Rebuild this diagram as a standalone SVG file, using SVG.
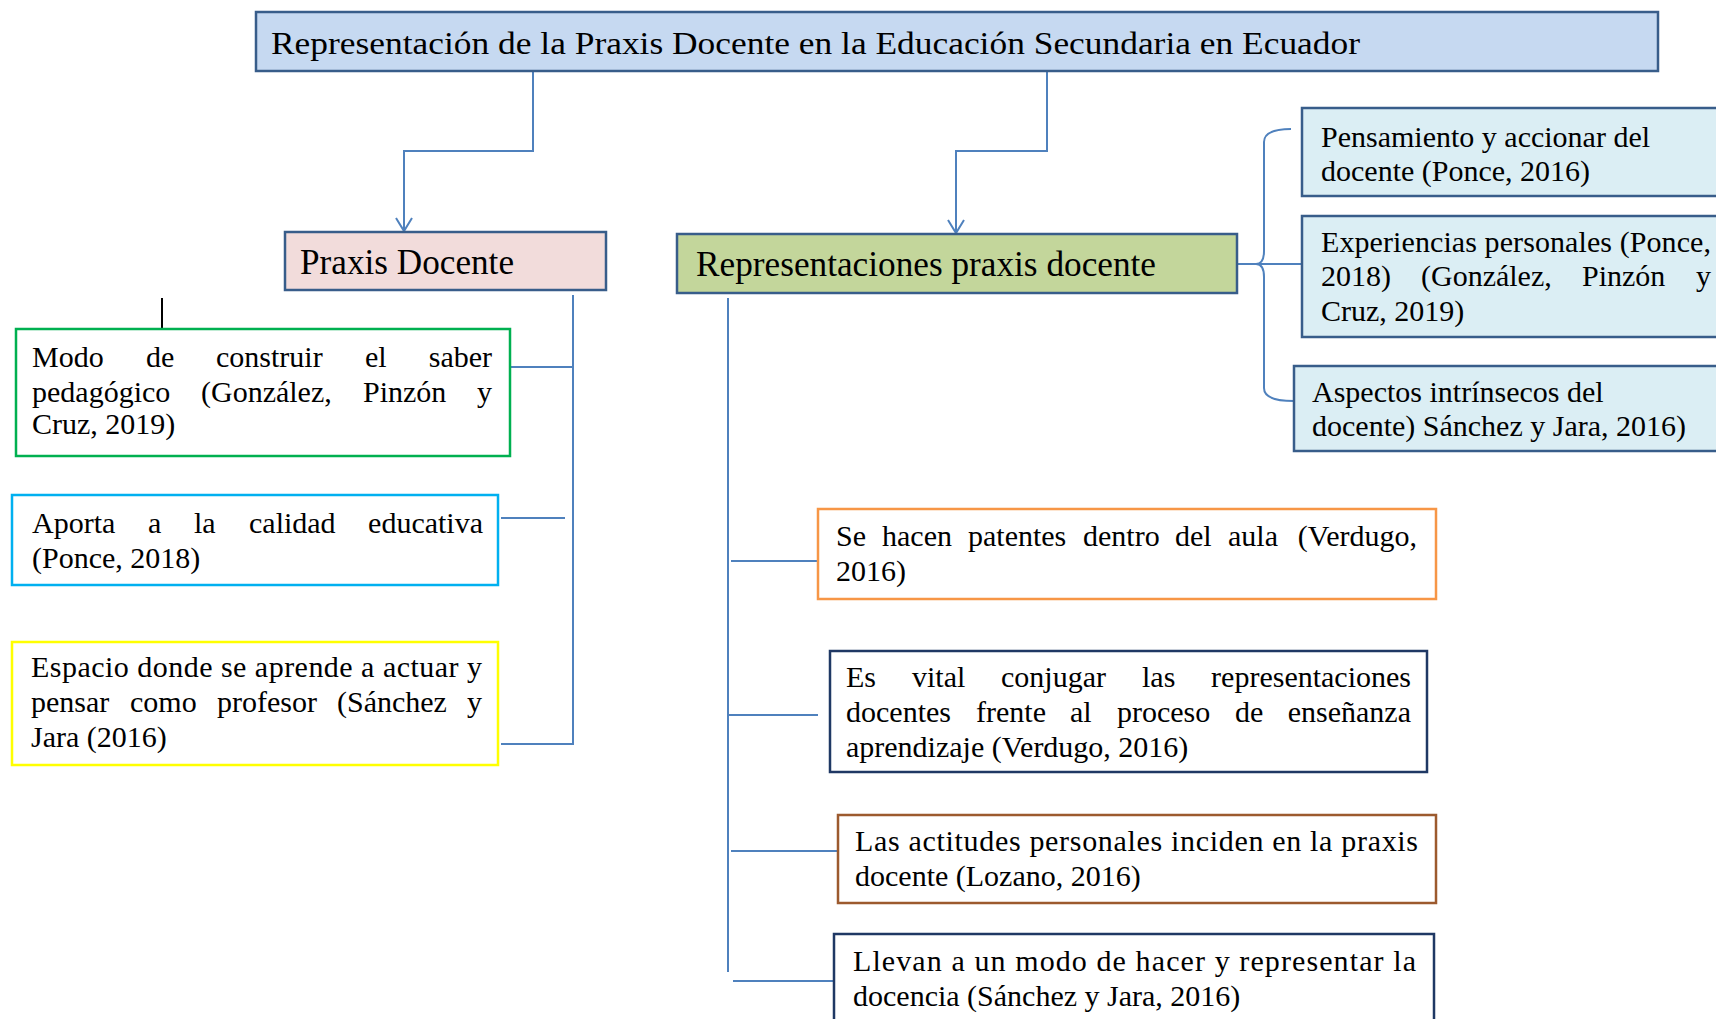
<svg xmlns="http://www.w3.org/2000/svg" width="1716" height="1019" viewBox="0 0 1716 1019">
<style>
text{font-family:"Liberation Serif","Times New Roman",serif;fill:#000;}
.t{font-size:30px;}
.h{font-size:35px;}
.e{text-anchor:end;}
.box{stroke-width:2.5;}
.con{fill:none;stroke:#4f81bd;stroke-width:2;}
</style>
<defs>
<marker id="arr" markerUnits="userSpaceOnUse" markerWidth="16" markerHeight="18" refX="14" refY="9" orient="auto" viewBox="0 0 16 18">
<path d="M1,1 L14,9 L1,17" fill="none" stroke="#4f81bd" stroke-width="2"/>
</marker>
</defs>
<rect width="1716" height="1019" fill="#fff"/>

<g id="connectors">
<path class="con" d="M533,71 V151 H404 V231" marker-end="url(#arr)"/>
<path class="con" d="M1047,71 V151 H956 V233" marker-end="url(#arr)"/>
<path class="con" d="M573,295 V744 H501"/>
<path class="con" d="M511,367 H573"/>
<path class="con" d="M501,518 H565"/>
<path class="con" d="M728,298 V972"/>
<path class="con" d="M731,561 H817"/>
<path class="con" d="M728,715 H818"/>
<path class="con" d="M731,851 H837"/>
<path class="con" d="M733,981 H834"/>
<path class="con" d="M1237,264 H1302"/>
<path class="con" d="M1291,129 Q1264,129 1264,142 V251 Q1264,264 1256,264 Q1264,264 1264,277 V388 Q1264,401 1294,401"/>
<path d="M162,298 V330" stroke="#000" stroke-width="2"/>
</g>

<g id="title">
<rect class="box" x="256" y="12" width="1402" height="59" fill="#c6d9f1" stroke="#385d8a"/>
<text x="271" y="54" style="font-size:31px" textLength="1089" lengthAdjust="spacingAndGlyphs">Representación de la Praxis Docente en la Educación Secundaria en Ecuador</text>
</g>

<g id="praxis-docente">
<rect class="box" x="285" y="232" width="321" height="58" fill="#f2dcdb" stroke="#385d8a"/>
<text class="h" x="300" y="274" textLength="214" lengthAdjust="spacingAndGlyphs">Praxis Docente</text>
</g>

<g id="representaciones">
<rect class="box" x="677" y="234" width="560" height="59" fill="#c3d69b" stroke="#385d8a"/>
<text class="h" x="696" y="276" textLength="460" lengthAdjust="spacingAndGlyphs">Representaciones praxis docente</text>
</g>

<g id="modo">
<rect class="box" x="16" y="329" width="494" height="127" fill="#fff" stroke="#00b050"/>
<text class="t" y="367"><tspan x="32">Modo</tspan><tspan x="146">de</tspan><tspan x="216">construir</tspan><tspan x="365">el</tspan><tspan class="e" x="492">saber</tspan></text>
<text class="t" y="402"><tspan x="32">pedagógico</tspan><tspan x="201">(González,</tspan><tspan x="363">Pinzón</tspan><tspan class="e" x="492">y</tspan></text>
<text class="t" x="32" y="434">Cruz, 2019)</text>
</g>

<g id="aporta">
<rect class="box" x="12" y="495" width="486" height="90" fill="#fff" stroke="#00b0f0"/>
<text class="t" y="533"><tspan x="32">Aporta</tspan><tspan x="148">a</tspan><tspan x="194">la</tspan><tspan x="249">calidad</tspan><tspan class="e" x="483">educativa</tspan></text>
<text class="t" x="32" y="568">(Ponce, 2018)</text>
</g>

<g id="espacio">
<rect class="box" x="12" y="642" width="486" height="123" fill="#fff" stroke="#ffff00"/>
<text class="t" x="31" y="677" textLength="451" lengthAdjust="spacing">Espacio donde se aprende a actuar y</text>
<text class="t" y="712"><tspan x="31">pensar</tspan><tspan x="130">como</tspan><tspan x="217">profesor</tspan><tspan x="337">(Sánchez</tspan><tspan class="e" x="482">y</tspan></text>
<text class="t" x="31" y="747">Jara (2016)</text>
</g>

<g id="pensamiento">
<rect class="box" x="1302" y="108" width="430" height="88" fill="#dbeef4" stroke="#385d8a"/>
<text class="t" x="1321" y="147">Pensamiento y accionar del</text>
<text class="t" x="1321" y="181">docente (Ponce, 2016)</text>
</g>

<g id="experiencias">
<rect class="box" x="1302" y="216" width="430" height="121" fill="#dbeef4" stroke="#385d8a"/>
<text class="t" x="1321" y="252" textLength="390" lengthAdjust="spacing">Experiencias personales (Ponce,</text>
<text class="t" y="286"><tspan x="1321">2018)</tspan><tspan x="1421">(González,</tspan><tspan x="1582">Pinzón</tspan><tspan class="e" x="1711">y</tspan></text>
<text class="t" x="1321" y="321">Cruz, 2019)</text>
</g>

<g id="aspectos">
<rect class="box" x="1294" y="366" width="440" height="85" fill="#dbeef4" stroke="#385d8a"/>
<text class="t" x="1312" y="402">Aspectos intrínsecos del</text>
<text class="t" x="1312" y="436">docente) Sánchez y Jara, 2016)</text>
</g>

<g id="se-hacen">
<rect class="box" x="818" y="509" width="618" height="90" fill="#fff" stroke="#f79646"/>
<text class="t" y="546"><tspan x="836">Se</tspan><tspan x="882">hacen</tspan><tspan x="968">patentes</tspan><tspan x="1083">dentro</tspan><tspan x="1175">del</tspan><tspan x="1228">aula</tspan><tspan class="e" x="1417">(Verdugo,</tspan></text>
<text class="t" x="836" y="581">2016)</text>
</g>

<g id="es-vital">
<rect class="box" x="830" y="651" width="597" height="121" fill="#fff" stroke="#1f3864"/>
<text class="t" y="687"><tspan x="846">Es</tspan><tspan x="912">vital</tspan><tspan x="1001">conjugar</tspan><tspan x="1142">las</tspan><tspan class="e" x="1411">representaciones</tspan></text>
<text class="t" y="722"><tspan x="846">docentes</tspan><tspan x="976">frente</tspan><tspan x="1070">al</tspan><tspan x="1117">proceso</tspan><tspan x="1235">de</tspan><tspan class="e" x="1411">enseñanza</tspan></text>
<text class="t" x="846" y="757">aprendizaje (Verdugo, 2016)</text>
</g>

<g id="actitudes">
<rect class="box" x="838" y="815" width="598" height="88" fill="#fff" stroke="#9c5a2e"/>
<text class="t" x="855" y="851" textLength="563" lengthAdjust="spacing">Las actitudes personales inciden en la praxis</text>
<text class="t" x="855" y="886">docente (Lozano, 2016)</text>
</g>

<g id="llevan">
<rect class="box" x="834" y="934" width="600" height="100" fill="#fff" stroke="#1f3864"/>
<text class="t" x="853" y="971" textLength="563" lengthAdjust="spacing">Llevan a un modo de hacer y representar la</text>
<text class="t" x="853" y="1006">docencia (Sánchez y Jara, 2016)</text>
</g>
</svg>
